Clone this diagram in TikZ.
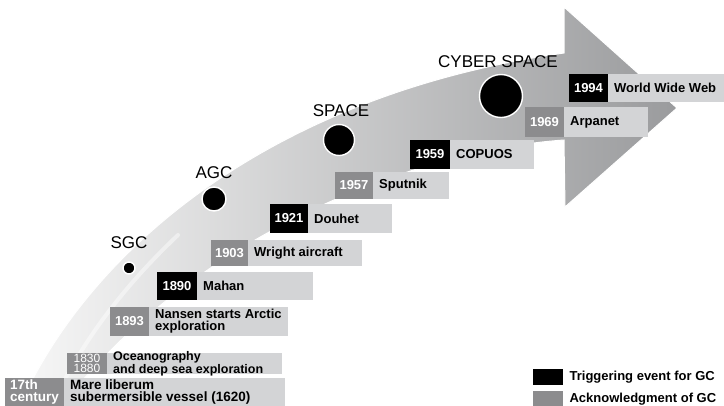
\documentclass[tikz,border=0pt]{standalone}
\usepackage{fontspec}
\setmainfont{Liberation Sans}
\definecolor{dk}{HTML}{8C8C8E}
\definecolor{lt}{HTML}{D3D4D6}
\definecolor{shl}{HTML}{F7F7F7}
\definecolor{shr}{HTML}{9A9B9D}
\begin{document}
\begin{tikzpicture}[x=1pt,y=-1pt,
  yrbox/.style={anchor=north west, inner sep=0pt, outer sep=0pt, text=white, align=left,
    font=\bfseries\fontsize{13}{11}\selectfont},
  ltbox/.style={anchor=north west, inner sep=0pt, outer sep=0pt, fill=lt},
  evtxt/.style={anchor=west, inner sep=0pt, align=left, font=\bfseries\fontsize{13}{11}\selectfont},
  dot/.style={circle, fill=black, draw=white, line width=1.4pt, inner sep=0pt},
  era/.style={font=\fontsize{17}{17}\selectfont, inner sep=0pt},
  legtxt/.style={anchor=west, inner sep=0pt, font=\bfseries\fontsize{13}{13}\selectfont}
]
\useasboundingbox (0,0) rectangle (724,405);
% curved arrow band
\shade[left color=shl, right color=shr, draw=white, line width=1pt]
  (20,405) .. controls (90,250) and (270,95) .. (564,53)
  -- (564,7) -- (677,108) -- (565,207) -- (564,140)
  .. controls (420,150) and (200,230) .. (62,405) -- cycle;
% faint highlight inside the band
\draw[white, line width=4pt, opacity=0.45, line cap=round]
  (52,405) .. controls (80,345) and (120,290) .. (178,235);
% events
\node[yrbox, fill=dk, minimum width=59pt, minimum height=28pt, font=\bfseries\fontsize{13.5}{12.5}\selectfont] (marey) at (5,378) {17th\\century};
\node[ltbox, minimum width=221pt, minimum height=28pt] (mareb) at (64,378) {};
\node[evtxt, font=\bfseries\fontsize{13.5}{12.5}\selectfont] (maret) at ([xshift=6pt]mareb.west) {Mare liberum\\subermersible vessel (1620)};

\node[yrbox, fill=dk, minimum width=40pt, minimum height=21pt, font=\fontsize{12}{10}\selectfont] (oceany) at (67,353) {1830\\1880};
\node[ltbox, minimum width=175pt, minimum height=21pt] (oceanb) at (107,353) {};
\node[evtxt, font=\bfseries\fontsize{12.5}{10}\selectfont] (oceant) at ([xshift=6pt]oceanb.west) {Oceanography\\and deep sea exploration};

\node[yrbox, fill=dk, minimum width=39pt, minimum height=29pt] (nanseny) at (110,307) {1893};
\node[ltbox, minimum width=139pt, minimum height=29pt] (nansenb) at (149,307) {};
\node[evtxt, font=\bfseries\fontsize{13}{12}\selectfont] (nansent) at ([xshift=6pt]nansenb.west) {Nansen starts Arctic\\exploration};

\node[yrbox, fill=black, minimum width=40pt, minimum height=28pt] (mahany) at (157,272) {1890};
\node[ltbox, minimum width=116pt, minimum height=28pt] (mahanb) at (197,272) {};
\node[evtxt] (mahant) at ([xshift=6pt]mahanb.west) {Mahan};

\node[yrbox, fill=dk, minimum width=37pt, minimum height=26pt] (wrighty) at (211,240) {1903};
\node[ltbox, minimum width=114pt, minimum height=26pt] (wrightb) at (248,240) {};
\node[evtxt] (wrightt) at ([xshift=6pt]wrightb.west) {Wright aircraft};

\node[yrbox, fill=black, minimum width=38pt, minimum height=29pt] (douhety) at (270,204) {1921};
\node[ltbox, minimum width=84pt, minimum height=29pt] (douhetb) at (308,204) {};
\node[evtxt] (douhett) at ([xshift=6pt]douhetb.west) {Douhet};

\node[yrbox, fill=dk, minimum width=38pt, minimum height=27pt] (sputniky) at (335,172) {1957};
\node[ltbox, minimum width=76pt, minimum height=27pt] (sputnikb) at (373,172) {};
\node[evtxt] (sputnikt) at ([xshift=6pt]sputnikb.west) {Sputnik};

\node[yrbox, fill=black, minimum width=40pt, minimum height=29pt] (copuosy) at (410,140) {1959};
\node[ltbox, minimum width=84pt, minimum height=29pt] (copuosb) at (450,140) {};
\node[evtxt] (copuost) at ([xshift=6pt]copuosb.west) {COPUOS};

\node[yrbox, fill=dk, minimum width=39pt, minimum height=30pt] (arpanety) at (525,107) {1969};
\node[ltbox, minimum width=84pt, minimum height=30pt] (arpanetb) at (564,107) {};
\node[evtxt] (arpanett) at ([xshift=6pt]arpanetb.west) {Arpanet};

\node[yrbox, fill=black, minimum width=39pt, minimum height=28pt] (wwwy) at (569,74) {1994};
\node[ltbox, minimum width=116pt, minimum height=28pt] (wwwb) at (608,74) {};
\node[evtxt] (wwwt) at ([xshift=6pt]wwwb.west) {World Wide Web};
% eras
\node[dot, minimum size=12pt] (sgc) at (129,268) {};
\node[era] (sgcl) at (129,243) {SGC};
\node[dot, minimum size=24pt] (agc) at (214,199) {};
\node[era] (agcl) at (214,173) {AGC};
\node[dot, minimum size=31pt] (space) at (339,140) {};
\node[era] (spacel) at (341,111) {SPACE};
\node[dot, minimum size=43pt] (cyber) at (501,96) {};
\node[era] (cyberl) at (498,62) {CYBER SPACE};
% legend
\node[anchor=north west, fill=black, minimum width=30pt, minimum height=16pt, inner sep=0pt] (legk) at (533,369) {};
\node[anchor=north west, fill=dk, minimum width=30pt, minimum height=15pt, inner sep=0pt] (legg) at (533,391) {};
\node[legtxt] (legkt) at ([xshift=6pt]legk.east) {Triggering event for GC};
\node[legtxt] (leggt) at ([xshift=6pt]legg.east) {Acknowledgment of GC};
\end{tikzpicture}
\end{document}
